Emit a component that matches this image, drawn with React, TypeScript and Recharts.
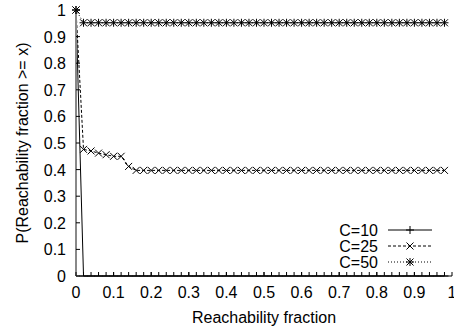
import React from 'react';
import { LineChart, Line, XAxis, YAxis, Customized } from 'recharts';

const xs = [
  0, 0.02, 0.04, 0.06, 0.08, 0.1, 0.12, 0.14, 0.16, 0.18,
  0.2, 0.22, 0.24, 0.26, 0.28, 0.3, 0.32, 0.34, 0.36, 0.38,
  0.4, 0.42, 0.44, 0.46, 0.48, 0.5, 0.52, 0.54, 0.56, 0.58,
  0.6, 0.62, 0.64, 0.66, 0.68, 0.7, 0.72, 0.74, 0.76, 0.78,
  0.8, 0.82, 0.84, 0.86, 0.88, 0.9, 0.92, 0.94, 0.96, 0.98,
];

const c10 = [
  1, 0, 0, 0, 0, 0, 0, 0, 0, 0,
  0, 0, 0, 0, 0, 0, 0, 0, 0, 0,
  0, 0, 0, 0, 0, 0, 0, 0, 0, 0,
  0, 0, 0, 0, 0, 0, 0, 0, 0, 0,
  0, 0, 0, 0, 0, 0, 0, 0, 0, 0,
];

const c25 = [
  1, 0.476, 0.47, 0.462, 0.456, 0.45, 0.45, 0.412, 0.397, 0.397,
  0.397, 0.397, 0.397, 0.397, 0.397, 0.397, 0.397, 0.397, 0.397, 0.397,
  0.397, 0.397, 0.397, 0.397, 0.397, 0.397, 0.397, 0.397, 0.397, 0.397,
  0.397, 0.397, 0.397, 0.397, 0.397, 0.397, 0.397, 0.397, 0.397, 0.397,
  0.397, 0.397, 0.397, 0.397, 0.397, 0.397, 0.397, 0.397, 0.397, 0.397,
];

const c50 = [
  1, 0.952, 0.952, 0.952, 0.952, 0.952, 0.952, 0.952, 0.952, 0.952,
  0.952, 0.952, 0.952, 0.952, 0.952, 0.952, 0.952, 0.952, 0.952, 0.952,
  0.952, 0.952, 0.952, 0.952, 0.952, 0.952, 0.952, 0.952, 0.952, 0.952,
  0.952, 0.952, 0.952, 0.952, 0.952, 0.952, 0.952, 0.952, 0.952, 0.952,
  0.952, 0.952, 0.952, 0.952, 0.952, 0.952, 0.952, 0.952, 0.952, 0.952,
];

const xTicks = [0, 0.1, 0.2, 0.3, 0.4, 0.5, 0.6, 0.7, 0.8, 0.9, 1];
const xTickLabels = ['0', '0.1', '0.2', '0.3', '0.4', '0.5', '0.6', '0.7', '0.8', '0.9', '1'];
const yTicks = [0, 0.1, 0.2, 0.3, 0.4, 0.5, 0.6, 0.7, 0.8, 0.9, 1];
const yTickLabels = ['0', '0.1', '0.2', '0.3', '0.4', '0.5', '0.6', '0.7', '0.8', '0.9', '1'];

const seriesNames = ['C=10', 'C=25', 'C=50'];
const xTitle = 'Reachability fraction';
const yTitle = 'P(Reachability fraction >= x)';

const data = xs.map((x, i) => ({ x, c10: c10[i], c25: c25[i], c50: c50[i] }));

const FONT = '"Liberation Sans", Arial, Helvetica, sans-serif';
const FS = 16;
const TICK = 4;

type MarkerKind = 'plus' | 'cross' | 'star';

const Marker = ({ kind, cx, cy, cutBelow }: { kind: MarkerKind; cx: number; cy: number; cutBelow?: boolean }) => {
  const s = 4;
  const c = 3.5;
  let d = '';
  if (kind === 'plus' || kind === 'star') {
    d += `M${cx - s},${cy}H${cx + s}M${cx},${cy - s}V${cutBelow ? cy : cy + s}`;
  }
  if (kind === 'cross' || kind === 'star') {
    d += `M${cx - c},${cy - c}L${cx + c},${cy + c}M${cx - c},${cy + c}L${cx + c},${cy - c}`;
  }
  return <path d={d} stroke="#000" strokeWidth={1} fill="none" />;
};

const makeDot = (kind: MarkerKind) => (p: any) => {
  if (p.cx == null || p.cy == null) return <g key={`d-${kind}-${p.index}`} />;
  return (
    <g key={`d-${kind}-${p.index}`}>
      <Marker kind={kind} cx={p.cx} cy={p.cy} cutBelow={kind === 'plus' && p.value === 0} />
    </g>
  );
};

const BottomTick = (p: any) => {
  const i = xTicks.indexOf(p.payload.value);
  return (
    <g>
      <line x1={p.x} x2={p.x} y1={p.y} y2={p.y - TICK} stroke="#000" strokeWidth={1} />
      <text x={p.x} y={p.y + 22} textAnchor="middle" fontFamily={FONT} fontSize={FS} fill="#000">
        {xTickLabels[i]}
      </text>
    </g>
  );
};

const TopTick = (p: any) => (
  <line x1={p.x} x2={p.x} y1={p.y} y2={p.y + TICK} stroke="#000" strokeWidth={1} />
);

const LeftTick = (p: any) => {
  const i = yTicks.indexOf(p.payload.value);
  return (
    <g>
      <line x1={p.x} x2={p.x + TICK} y1={p.y} y2={p.y} stroke="#000" strokeWidth={1} />
      <text x={p.x - 10} y={p.y + 6} textAnchor="end" fontFamily={FONT} fontSize={FS} fill="#000">
        {yTickLabels[i]}
      </text>
    </g>
  );
};

const RightTick = (p: any) => (
  <line x1={p.x} x2={p.x - TICK} y1={p.y} y2={p.y} stroke="#000" strokeWidth={1} />
);

const XTitle = (props: any) => {
  const vb = props.viewBox || { x: 76, y: 276, width: 376, height: 55 };
  return (
    <text x={vb.x + vb.width / 2} y={vb.y + 47} textAnchor="middle" fontFamily={FONT} fontSize={FS} fill="#000">
      {xTitle}
    </text>
  );
};

const YTitle = (props: any) => {
  const vb = props.viewBox || { x: 0, y: 10, width: 76, height: 266 };
  const cx = vb.x + 22;
  const cy = vb.y + vb.height / 2;
  return (
    <text
      x={cx}
      y={cy}
      transform={`rotate(-90, ${cx}, ${cy})`}
      textAnchor="middle"
      dominantBaseline="central"
      fontFamily={FONT}
      fontSize={FS}
      fill="#000"
    >
      {yTitle}
    </text>
  );
};

const legendStyles: { dash?: string; kind: MarkerKind }[] = [
  { dash: undefined, kind: 'plus' },
  { dash: '3 2', kind: 'cross' },
  { dash: '1 2', kind: 'star' },
];

const LegendBlock = () => (
  <g>
    {seriesNames.map((name, i) => {
      const y = 230 + i * 16;
      return (
        <g key={name}>
          <text x={378} y={y + 6} textAnchor="end" fontFamily={FONT} fontSize={FS} fill="#000">
            {name}
          </text>
          <line x1={388} x2={432} y1={y} y2={y} stroke="#000" strokeWidth={1} strokeDasharray={legendStyles[i].dash} />
          <Marker kind={legendStyles[i].kind} cx={410} cy={y} />
        </g>
      );
    })}
  </g>
);

export default function App() {
  return (
    <div style={{ position: 'absolute', left: 0, top: 0, width: 454, height: 331, background: '#fff' }}>
      <LineChart width={454} height={331} data={data} margin={{ top: 10, right: 2, bottom: 0, left: 0 }}>
        <XAxis
          dataKey="x"
          type="number"
          domain={[0, 1]}
          ticks={xTicks}
          height={55}
          tickSize={0}
          tickMargin={0}
          tick={BottomTick}
          tickLine={false}
          axisLine={{ stroke: '#000', strokeWidth: 1 }}
          interval={0}
          label={<XTitle />}
        />
        <XAxis
          xAxisId="top"
          orientation="top"
          dataKey="x"
          type="number"
          domain={[0, 1]}
          ticks={xTicks}
          height={0}
          tickSize={0}
          tickMargin={0}
          tick={TopTick}
          tickLine={false}
          axisLine={{ stroke: '#888', strokeWidth: 2 }}
          interval={0}
        />
        <YAxis
          type="number"
          domain={[0, 1]}
          ticks={yTicks}
          width={76}
          tickSize={0}
          tickMargin={0}
          tick={LeftTick}
          tickLine={false}
          axisLine={{ stroke: '#888', strokeWidth: 2 }}
          interval={0}
          label={<YTitle />}
        />
        <YAxis
          yAxisId="right"
          orientation="right"
          type="number"
          domain={[0, 1]}
          ticks={yTicks}
          width={0}
          tickSize={0}
          tickMargin={0}
          tick={RightTick}
          tickLine={false}
          axisLine={{ stroke: '#000', strokeWidth: 1 }}
          interval={0}
        />
        <Line
          dataKey="c10"
          name={seriesNames[0]}
          type="linear"
          stroke="#000"
          strokeWidth={1}
          dot={makeDot('plus')}
          activeDot={false}
          isAnimationActive={false}
        />
        <Line
          dataKey="c25"
          name={seriesNames[1]}
          type="linear"
          stroke="#000"
          strokeWidth={1}
          strokeDasharray="3 2"
          dot={makeDot('cross')}
          activeDot={false}
          isAnimationActive={false}
        />
        <Line
          dataKey="c50"
          name={seriesNames[2]}
          type="linear"
          stroke="#000"
          strokeWidth={1}
          strokeDasharray="1 2"
          dot={makeDot('star')}
          activeDot={false}
          isAnimationActive={false}
        />
        <Customized component={LegendBlock} />
      </LineChart>
    </div>
  );
}
